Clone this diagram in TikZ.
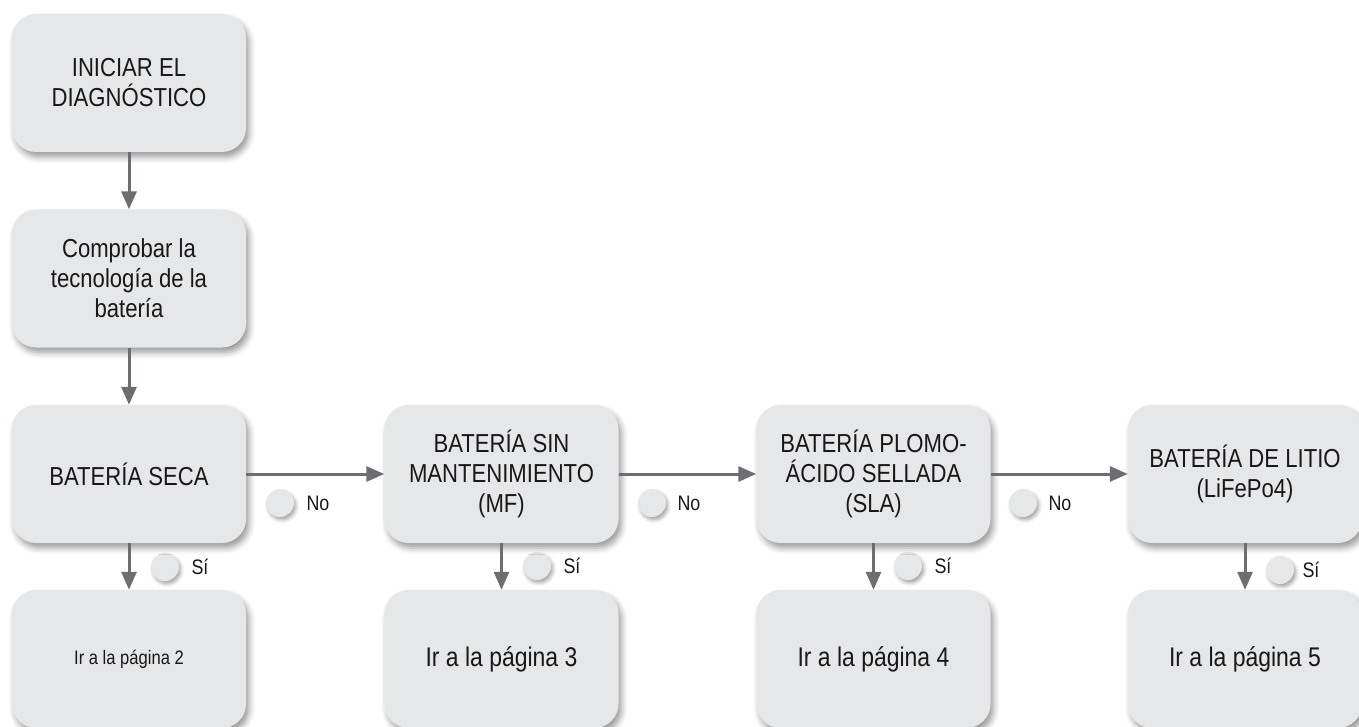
\documentclass[tikz,border=0pt]{standalone}
\usepackage{fontspec}
\setmainfont{Liberation Sans}[FakeStretch=0.85]
\usetikzlibrary{arrows.meta,shadows.blur}
\definecolor{boxfill}{HTML}{E6E7E8}
\definecolor{txt}{HTML}{1A1718}
\definecolor{arr}{HTML}{6D6E71}
\begin{document}
\begin{tikzpicture}[x=1pt,y=-1pt,
  softshadow/.style={blur shadow={shadow xshift=3pt,shadow yshift=-5pt,shadow blur radius=6pt,shadow opacity=40}},
  dotshadow/.style={blur shadow={shadow xshift=2pt,shadow yshift=-3pt,shadow blur radius=3.5pt,shadow opacity=35}},
  box/.style={rectangle, rounded corners=24pt, fill=boxfill, minimum width=234pt, minimum height=138pt,
    inner sep=0pt, align=center, text=txt, font=\fontsize{26}{30}\selectfont, softshadow},
  dot/.style={circle, fill=boxfill, minimum size=28pt, inner sep=0pt, dotshadow},
  lab/.style={text=txt, font=\fontsize{21}{24}\selectfont, inner sep=0pt},
  flow/.style={draw=arr, line width=3pt, -{Triangle[length=18pt,width=15pt]}}]
\useasboundingbox (0,0) rectangle (1359,727);
\node[dot] (n1) at (280,503) {};
\node[dot] (n2) at (652,503) {};
\node[dot] (n3) at (1023,503) {};
\node[dot] (s1) at (165,567) {};
\node[dot] (s2) at (537,566) {};
\node[dot] (s3) at (908,566) {};
\node[dot] (s4) at (1280,570) {};
\node[lab] (ln1) at (318,503) {No};
\node[lab] (ln2) at (689,503) {No};
\node[lab] (ln3) at (1060,503) {No};
\node[lab] (ls1) at (200,567) {Sí};
\node[lab] (ls2) at (572,566) {Sí};
\node[lab] (ls3) at (943,566) {Sí};
\node[lab] (ls4) at (1311,570) {Sí};
\node[box] (start) at (129,83) {INICIAR EL\\DIAGNÓSTICO};
\node[box] (check) at (129,278.5) {Comprobar la\\tecnología de la\\batería};
\node[box] (seca) at (129,474) {BATERÍA SECA};
\node[box] (sin) at (501.5,474) {BATERÍA SIN\\MANTENIMIENTO\\(MF)};
\node[box] (sla) at (873.5,474) {BATERÍA PLOMO-\\ÁCIDO SELLADA\\(SLA)};
\node[box] (litio) at (1245,474) {BATERÍA DE LITIO\\(LiFePo4)};
\node[box, font=\fontsize{19.5}{23}\selectfont] (p2) at (129,659) {Ir a la página 2};
\node[box, font=\fontsize{27}{30}\selectfont] (p3) at (501.5,659) {Ir a la página 3};
\node[box, font=\fontsize{27}{30}\selectfont] (p4) at (873.5,659) {Ir a la página 4};
\node[box, font=\fontsize{27}{30}\selectfont] (p5) at (1245,659) {Ir a la página 5};
\draw[flow] (start) -- (check);
\draw[flow] (check) -- (seca);
\draw[flow] (seca) -- (sin);
\draw[flow] (sin) -- (sla);
\draw[flow] (sla) -- (litio);
\draw[flow] (seca) -- (p2);
\draw[flow] (sin) -- (p3);
\draw[flow] (sla) -- (p4);
\draw[flow] (litio) -- (p5);
\end{tikzpicture}
\end{document}
